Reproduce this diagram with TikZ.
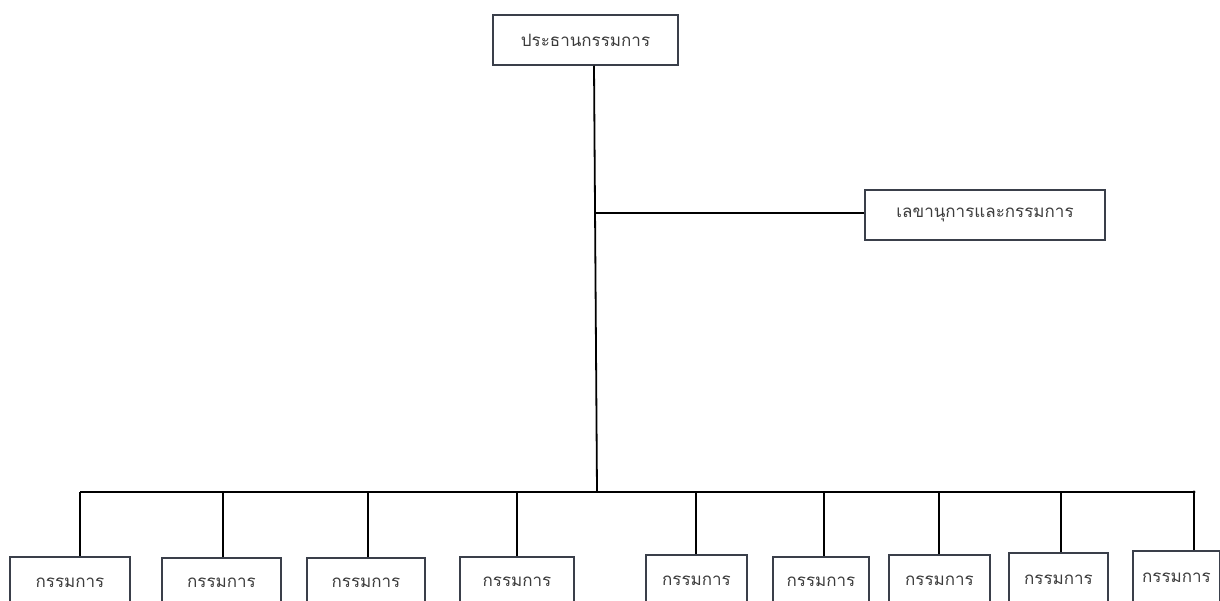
\documentclass[tikz,border=0pt]{standalone}
\usepackage{fontspec}
\newfontfamily\thaifont[Script=Thai]{Loma}
\begin{document}
\begin{tikzpicture}[x=1pt,y=-1pt,
  box/.style={draw=boxc,line width=1.5pt,fill=white,inner sep=0pt,font=\thaifont\fontsize{17}{20}\selectfont,text=textc},
  lbl/.style={font=\thaifont\fontsize{17}{20}\selectfont,text=textc,inner sep=0pt},
  conn/.style={draw=black,line width=1.8pt}]
\definecolor{boxc}{HTML}{3A3F4A}
\definecolor{textc}{HTML}{3C3C3C}
\useasboundingbox (0,0) rectangle (1220,600);
\clip (0,0) rectangle (1220,600);
% top
\node[box,minimum width=185pt,minimum height=50pt] (chair) at (585.5,40) {ประธานกรรมการ};
\node[box,minimum width=240pt,minimum height=50pt] (sec) at (985,215) {เลขานุการและกรรมการ};
% bus
\coordinate (top) at (594,65);
\coordinate (hub) at (597,492);
\coordinate (sj) at (596,213);
\coordinate (busL) at (80,492);
\coordinate (busR) at (1194,492);
\draw[conn] (chair.south -| top) -- (hub);
\draw[conn] (sj) -- (sec.west |- sj);
\draw[conn] (busL) -- (busR);
\fill (busR) circle (1.6pt);
% bottom boxes
\node[box,minimum width=120pt,minimum height=60pt] (m1) at (70,587) {};
\node[box,minimum width=119pt,minimum height=60pt] (m2) at (221.5,588) {};
\node[box,minimum width=118pt,minimum height=60pt] (m3) at (366,588) {};
\node[box,minimum width=114pt,minimum height=60pt] (m4) at (517,587) {};
\node[box,minimum width=101pt,minimum height=60pt] (m5) at (696.5,585) {};
\node[box,minimum width=96pt,minimum height=60pt] (m6) at (821,587) {};
\node[box,minimum width=101pt,minimum height=60pt] (m7) at (939.5,585) {};
\node[box,minimum width=99pt,minimum height=60pt] (m8) at (1058.5,583) {};
\node[box,minimum width=87pt,minimum height=60pt] (m9) at (1176.5,581) {};
\foreach \i/\y in {1/583,2/583,3/583,4/582,5/581,6/582,7/581,8/580,9/578}{
  \node[lbl] (t\i) at (m\i.center |- 0,\y) {กรรมการ};
}
\foreach \i/\x in {1/80,2/223,3/368,4/517,5/696,6/824,7/939,8/1061,9/1194}{
  \coordinate (d\i) at (\x,492);
  \draw[conn] (d\i) -- (d\i |- m\i.north);
}
\end{tikzpicture}
\end{document}
